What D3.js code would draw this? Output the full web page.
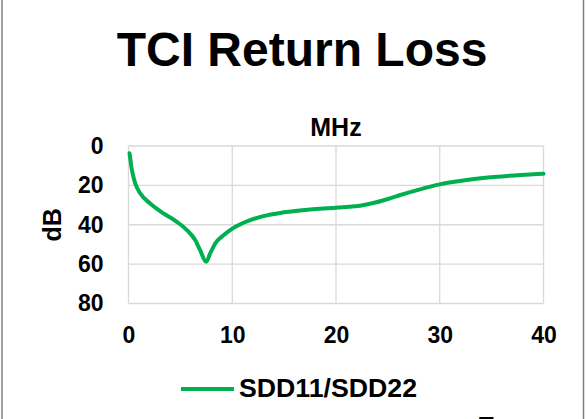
<!DOCTYPE html>
<html>
<head>
<meta charset="utf-8">
<script src="https://cdn.jsdelivr.net/npm/d3@7"></script>
<style>
  html, body { margin: 0; padding: 0; background: #fff; }
  svg { display: block; font-family: "Liberation Sans", Arial, sans-serif; }
</style>
</head>
<body>
<div id="chart"></div>
<script>
// Data
const freqMHz = [0.1, 0.33, 0.65, 1.13, 2.09, 3.37, 4.66, 5.63, 6.43, 6.9, 7.49, 7.87, 8.36, 9.16, 9.8,
  11.08, 13.0, 14.96, 17.5, 20.0, 22.7, 23.9, 25.2, 26.2, 28.1, 30.0, 32.6, 35.2, 37.8, 40];
const sdd11 = [3.7, 12.2, 19, 24, 29.2, 34.2, 38.5, 42.7, 47.8, 52.9, 58.8, 54.6, 49.5, 45.3, 42.7,
  39, 35.6, 33.7, 32.2, 31.4, 30, 28.6, 26.6, 24.9, 22, 19.5, 17.3, 15.8, 14.7, 14.1];
const xTicks = [0, 10, 20, 30, 40];
const yTicks = [0, 20, 40, 60, 80];
const seriesName = 'SDD11/SDD22';

const W = 587, H = 419;
const plot = { left: 128.5, right: 543.5, top: 146, bottom: 303.5 };

const svg = d3.select('#chart').append('svg')
  .attr('width', W)
  .attr('height', H);

// outer frame (only the side edges are visible)
svg.append('line').attr('x1', 2).attr('x2', 2).attr('y1', 0).attr('y2', H)
  .attr('stroke', '#7f7f7f').attr('stroke-width', 1.5);
svg.append('line').attr('x1', 583.5).attr('x2', 583.5).attr('y1', 0).attr('y2', H)
  .attr('stroke', '#7f7f7f').attr('stroke-width', 1.5);

// title
svg.append('text')
  .attr('x', 302)
  .attr('y', 66)
  .attr('text-anchor', 'middle')
  .attr('font-size', '48px')
  .attr('font-weight', 'bold')
  .attr('fill', '#000')
  .text('TCI Return Loss');

const x = d3.scaleLinear().domain([0, 40]).range([plot.left, plot.right]);
const y = d3.scaleLinear().domain([0, 80]).range([plot.top, plot.bottom]);

// grid
const grid = svg.append('g').attr('stroke', '#d9d9d9').attr('stroke-width', 1.3);
grid.selectAll('.gx').data(xTicks).join('line')
  .attr('x1', d => x(d)).attr('x2', d => x(d))
  .attr('y1', plot.top).attr('y2', plot.bottom);
grid.selectAll('.gy').data(yTicks).join('line')
  .attr('x1', plot.left).attr('x2', plot.right)
  .attr('y1', d => y(d)).attr('y2', d => y(d));

// axes (labels only, Excel style)
const xAxis = svg.append('g')
  .attr('transform', `translate(0,${plot.bottom + 23})`)
  .call(d3.axisBottom(x).tickValues(xTicks).tickSize(0).tickPadding(0));
const yAxis = svg.append('g')
  .attr('transform', `translate(${plot.left - 25},0)`)
  .call(d3.axisLeft(y).tickValues(yTicks).tickSize(0).tickPadding(0));
[xAxis, yAxis].forEach(g => {
  g.select('.domain').remove();
  g.selectAll('text')
    .attr('font-family', '"Liberation Sans", Arial, sans-serif')
    .attr('font-size', '23px')
    .attr('font-weight', 'bold')
    .attr('fill', '#000');
});

// axis titles
svg.append('text')
  .attr('x', 336)
  .attr('y', 136)
  .attr('text-anchor', 'middle')
  .attr('font-size', '25px')
  .attr('font-weight', 'bold')
  .text('MHz');

svg.append('text')
  .attr('transform', `translate(61,${(plot.top + plot.bottom) / 2}) rotate(-90)`)
  .attr('text-anchor', 'middle')
  .attr('font-size', '25px')
  .attr('font-weight', 'bold')
  .text('dB');

// series
const points = freqMHz.map((f, i) => [f, sdd11[i]]);
const line = d3.line()
  .x(d => x(d[0]))
  .y(d => y(d[1]))
  .curve(d3.curveMonotoneX);

svg.append('path')
  .datum(points)
  .attr('d', line)
  .attr('fill', 'none')
  .attr('stroke', '#00b050')
  .attr('stroke-width', 4)
  .attr('stroke-linecap', 'round')
  .attr('stroke-linejoin', 'round');

// legend
svg.append('line')
  .attr('x1', 181).attr('x2', 234)
  .attr('y1', 389).attr('y2', 389)
  .attr('stroke', '#00b050').attr('stroke-width', 4);
svg.append('text')
  .attr('x', 239)
  .attr('y', 397)
  .attr('font-size', '25px')
  .attr('font-weight', 'bold')
  .attr('textLength', 178)
  .attr('lengthAdjust', 'spacingAndGlyphs')
  .text(seriesName);

// glyph peeking in at the bottom edge of the picture
svg.append('text')
  .attr('x', 479)
  .attr('y', 434)
  .attr('font-size', '24px')
  .attr('font-weight', 'bold')
  .text('T');
</script>
</body>
</html>
